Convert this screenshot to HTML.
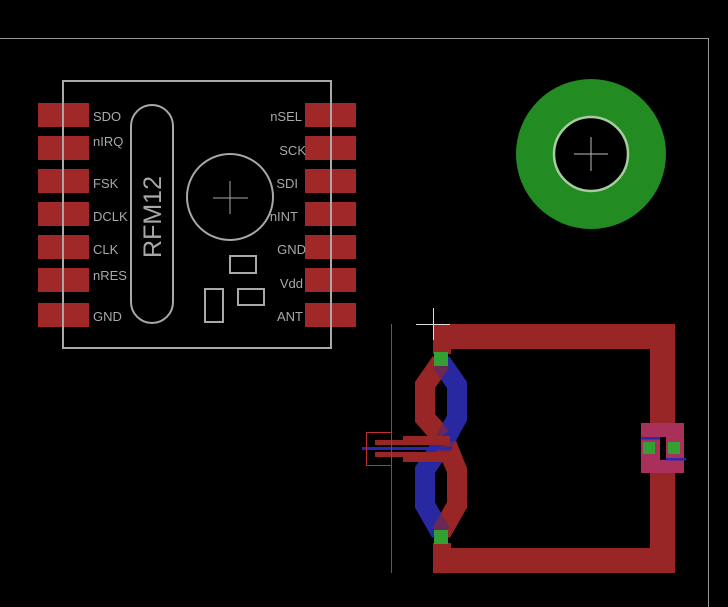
<!DOCTYPE html>
<html><head><meta charset="utf-8"><style>
html,body{margin:0;padding:0;background:#000;width:728px;height:607px;overflow:hidden}
svg{display:block}
text{font-family:"Liberation Sans",sans-serif;fill:#a8a8a8}
</style></head><body>
<svg width="728" height="607" viewBox="0 0 728 607" xmlns="http://www.w3.org/2000/svg">
<rect width="728" height="607" fill="#000"/>
<path d="M0 38.5 H708.5 V607" fill="none" stroke="#9a9a9a" stroke-width="1"/>
<g fill="#a02828">
<rect x="38" y="103" width="51" height="24"/>
<rect x="38" y="136" width="51" height="24"/>
<rect x="38" y="169" width="51" height="24"/>
<rect x="38" y="202" width="51" height="24"/>
<rect x="38" y="235" width="51" height="24"/>
<rect x="38" y="268" width="51" height="24"/>
<rect x="38" y="303" width="51" height="24"/>
<rect x="305" y="103" width="51" height="24"/>
<rect x="305" y="136" width="51" height="24"/>
<rect x="305" y="169" width="51" height="24"/>
<rect x="305" y="202" width="51" height="24"/>
<rect x="305" y="235" width="51" height="24"/>
<rect x="305" y="268" width="51" height="24"/>
<rect x="305" y="303" width="51" height="24"/>
</g>
<g fill="none" stroke="#a8a8a8" stroke-width="2">
<rect x="63" y="81" width="268" height="267"/>
<rect x="131" y="105" width="42" height="218" rx="21"/>
<circle cx="230" cy="197" r="43"/>
<rect x="230" y="256" width="26" height="17"/>
<rect x="205" y="289" width="18" height="33"/>
<rect x="238" y="289" width="26" height="16"/>
</g>
<path d="M213 198H248M230 181V214" stroke="#a8a8a8" stroke-width="1"/>
<text x="153" y="217" font-size="25" text-anchor="middle" dominant-baseline="central" transform="rotate(-90 153 217)">RFM12</text>
<g font-size="13">
<text x="93" y="121">SDO</text>
<text x="93" y="146">nIRQ</text>
<text x="93" y="188">FSK</text>
<text x="93" y="221">DCLK</text>
<text x="93" y="254">CLK</text>
<text x="93" y="280">nRES</text>
<text x="93" y="321">GND</text>
</g>
<g font-size="13" text-anchor="end">
<text x="302" y="121">nSEL</text>
<text x="306" y="155">SCK</text>
<text x="298" y="188">SDI</text>
<text x="298" y="221">nINT</text>
<text x="306" y="254">GND</text>
<text x="303" y="288">Vdd</text>
<text x="303" y="321">ANT</text>
</g>
<circle cx="591" cy="154" r="56" fill="none" stroke="#228b22" stroke-width="38"/>
<circle cx="591" cy="154" r="37" fill="none" stroke="#a8cca0" stroke-width="2.5"/>
<path d="M574 154H608M591 137V171" stroke="#bbb" stroke-width="1"/>
<g fill="#982626">
<rect x="433" y="324" width="242" height="25"/>
<rect x="433" y="548" width="242" height="25"/>
<rect x="650" y="324" width="25" height="249"/>
<rect x="433" y="324" width="18" height="30"/>
<rect x="433" y="543" width="18" height="30"/>
</g>
<polyline points="441,362 425,385 425,418 445,440 457,470 457,505 441,533" fill="none" stroke="#982626" stroke-width="20"/>
<polyline points="441,362 457,385 457,418 445,440 425,470 425,505 441,533" fill="none" stroke="#2828a0" stroke-width="20"/>
<polyline points="441,362 425,385 425,418 441,437" fill="none" stroke="#982626" stroke-width="20" opacity="0.6"/>
<polyline points="445,445 457,470 457,505 441,533" fill="none" stroke="#982626" stroke-width="20" opacity="0.6"/>
<g fill="#982626">
<rect x="375" y="440" width="75" height="5"/>
<rect x="403" y="436" width="47" height="9"/>
<rect x="375" y="452" width="75" height="5"/>
<rect x="403" y="452" width="47" height="10"/>
</g>
<rect x="362" y="447" width="90" height="3" fill="#2828b0"/>
<path d="M391.5 324V573M391 432.5H366.5V465.5H391" fill="none" stroke="#c03030" stroke-width="1"/>
<path d="M416 324.5H450M433.5 308V340" stroke="#ddd" stroke-width="1"/>
<rect x="434" y="352" width="14" height="14" fill="#32a032"/>
<rect x="434" y="530" width="14" height="14" fill="#32a032"/>
<rect x="641" y="423" width="43" height="50" fill="#a8305a"/>
<rect x="660" y="437" width="6" height="23" fill="#000"/>
<rect x="641" y="437" width="19" height="2.5" fill="#2828b0"/>
<rect x="666" y="458" width="20" height="2.5" fill="#2828b0"/>
<rect x="643" y="442" width="12" height="12" fill="#32a032"/>
<rect x="668" y="442" width="12" height="12" fill="#32a032"/>
</svg>
</body></html>
